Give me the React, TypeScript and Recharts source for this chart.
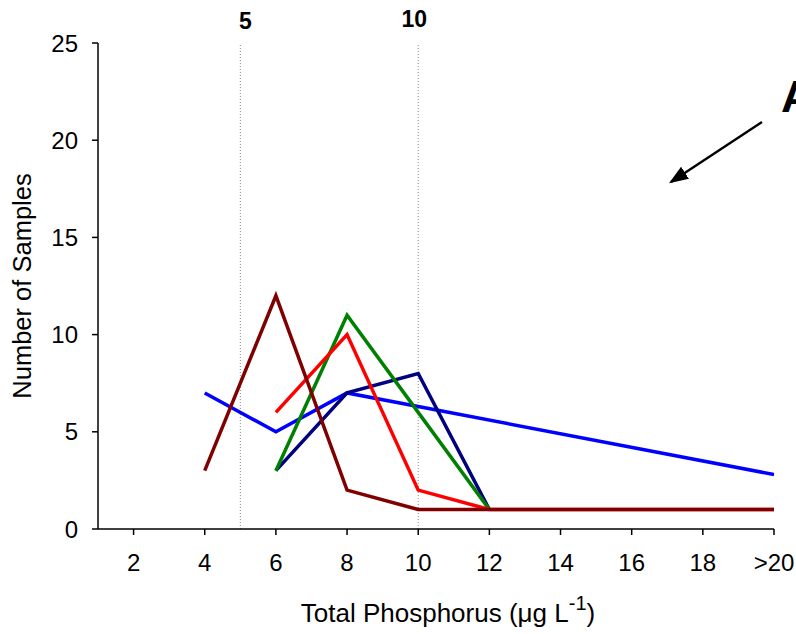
import React from 'react';
import { LineChart, Line, XAxis, YAxis, ReferenceLine } from 'recharts';

// Category positions on the phosphorus axis (20 = ">20")
const xValues = [4, 6, 8, 10, 12, 14, 16, 18, 20];
const xTicks = [2, 4, 6, 8, 10, 12, 14, 16, 18, 20];
const yTicks = [0, 5, 10, 15, 20, 25];
const refLines = [5, 10];

const blueSeries = [7, 5, 7, null, null, null, null, null, 2.8];
const navySeries = [null, 3, 7, 8, 1, null, null, null, null];
const greenSeries = [null, 3, 11, 6, 1, null, null, null, null];
const redSeries = [null, 6, 10, 2, 1, 1, 1, 1, 1];
const brownSeries = [3, 12, 2, 1, 1, 1, 1, 1, 1];

const data = xValues.map((x, i) => ({
  x,
  blue: blueSeries[i],
  navy: navySeries[i],
  green: greenSeries[i],
  red: redSeries[i],
  brown: brownSeries[i],
}));

const FONT = '"Liberation Sans", Arial, sans-serif';

const RefLabel = (props: any) => {
  const { viewBox, value, dx, dyTop } = props;
  if (!viewBox) return null;
  return (
    <text
      x={viewBox.x + dx}
      y={viewBox.y - dyTop}
      textAnchor="middle"
      fontFamily={FONT}
      fontWeight="bold"
      fontSize={23}
      fill="#000"
    >
      {value}
    </text>
  );
};

const XTitle = (props: any) => {
  const { viewBox } = props;
  if (!viewBox) return null;
  const cx = viewBox.x + viewBox.width / 2 + 12;
  return (
    <text x={cx} y={622} textAnchor="middle" fontFamily={FONT} fontSize={26} fill="#000">
      Total Phosphorus (μg L
      <tspan dy={-12} fontSize={20}>-1</tspan>
      <tspan dy={12}>)</tspan>
    </text>
  );
};

const YTitle = (props: any) => {
  const { viewBox } = props;
  if (!viewBox) return null;
  const cy = viewBox.y + viewBox.height / 2;
  const x = 31;
  return (
    <text
      x={x}
      y={cy}
      transform={`rotate(-90, ${x}, ${cy})`}
      textAnchor="middle"
      fontFamily={FONT}
      fontSize={25.5}
      fill="#000"
    >
      Number of Samples
    </text>
  );
};

export default function App() {
  return (
    <div style={{ position: 'absolute', left: 0, top: 0, width: 796, height: 634, background: '#fff' }}>
      <LineChart
        width={796}
        height={634}
        data={data}
        margin={{ top: 43, right: 22, bottom: 0, left: 0 }}
      >
        <XAxis
          dataKey="x"
          type="number"
          domain={[1, 20]}
          ticks={xTicks}
          tickFormatter={(v: number) => (v === 20 ? '>20' : String(v))}
          height={105}
          tickSize={6}
          tickMargin={19}
          tick={{ fontSize: 24, fill: '#000', fontFamily: FONT }}
          stroke="#000"
          strokeWidth={1.5}
          interval={0}
          allowDataOverflow
          label={<XTitle />}
        />
        <YAxis
          type="number"
          domain={[0, 25]}
          ticks={yTicks}
          width={98}
          tickSize={6}
          tickMargin={14}
          tick={{ fontSize: 24, fill: '#000', fontFamily: FONT }}
          stroke="#000"
          strokeWidth={1.5}
          interval={0}
          label={<YTitle />}
        />
        {refLines.map((v, i) => (
          <ReferenceLine
            key={v}
            x={v}
            stroke="#8a8a8a"
            strokeWidth={1}
            strokeDasharray="1 2"
            label={<RefLabel value={String(v)} dx={i === 0 ? 5 : -4} dyTop={i === 0 ? 14 : 16} />}
          />
        ))}
        <Line dataKey="blue" stroke="#0000FF" strokeWidth={3.5} dot={false} connectNulls isAnimationActive={false} />
        <Line dataKey="navy" stroke="#000080" strokeWidth={3.5} dot={false} isAnimationActive={false} />
        <Line dataKey="green" stroke="#008000" strokeWidth={3.5} dot={false} isAnimationActive={false} />
        <Line dataKey="red" stroke="#FF0000" strokeWidth={3.5} dot={false} isAnimationActive={false} />
        <Line dataKey="brown" stroke="#800000" strokeWidth={3.5} dot={false} isAnimationActive={false} />
      </LineChart>
      <svg
        width={796}
        height={634}
        style={{ position: 'absolute', left: 0, top: 0, pointerEvents: 'none', overflow: 'hidden' }}
      >
        <defs>
          <marker id="arrowHead" markerWidth="8" markerHeight="6" refX="7" refY="3" orient="auto" markerUnits="strokeWidth">
            <path d="M0,0 L8,3 L0,6 Z" fill="#000" />
          </marker>
        </defs>
        <line x1={762} y1={122} x2={671} y2={182} stroke="#000" strokeWidth={2.4} markerEnd="url(#arrowHead)" />
        <text x={781} y={112} fontFamily={FONT} fontWeight="bold" fontSize={45} fill="#000">
          A
        </text>
      </svg>
    </div>
  );
}
